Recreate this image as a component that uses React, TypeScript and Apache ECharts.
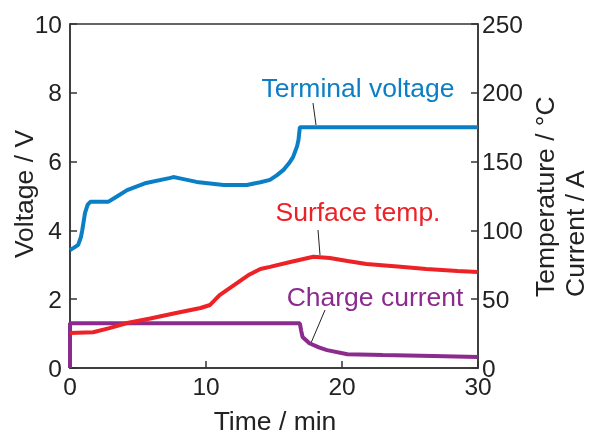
import React, { useEffect, useRef } from "react";
import * as echarts from "echarts";

const voltage: [number, number][] = [
  [0, 3.43], [0.3, 3.5], [0.6, 3.58], [0.8, 3.8], [0.9, 4.0], [1.1, 4.5], [1.3, 4.75], [1.5, 4.83],
  [2.8, 4.83], [3.3, 4.95], [4.2, 5.17], [5.6, 5.38], [7.3, 5.52], [7.6, 5.55], [8.0, 5.52],
  [9.3, 5.41], [11.3, 5.32], [13, 5.32], [14, 5.4], [14.7, 5.47], [15.2, 5.6], [15.7, 5.76],
  [16.1, 5.95], [16.4, 6.13], [16.7, 6.45], [16.8, 6.63], [16.9, 7.0], [30, 7.0],
];

const temperature: [number, number][] = [
  [0, 25.4], [1.7, 26], [2.9, 29], [4.2, 32.7], [5.9, 36], [7.8, 40], [9.6, 43.6], [10.3, 45.8],
  [11, 53], [12.3, 61.8], [13.2, 68], [14, 72], [14.7, 73.5], [16.2, 77], [17.9, 80.8],
  [19.1, 80], [20.4, 77.8], [21.8, 75.6], [24.3, 73.5], [26.2, 71.9], [28.5, 70.5], [30, 69.8],
];

const current: [number, number][] = [
  [0, 0], [0, 32.5], [16.9, 32.5], [17.0, 27], [17.1, 22.5], [17.6, 18], [18.3, 15], [18.9, 13],
  [20.4, 10], [23, 9.4], [26.7, 8.7], [30, 8],
];

const FONT = "'Liberation Sans', Arial, sans-serif";
const BLUE = "#0b7fc5";
const RED = "#ec2227";
const PURPLE = "#8c2b8e";
const AXIS = "#333";
const TF = `26.5px ${FONT}`;

export default function App() {
  const ref = useRef<HTMLDivElement>(null);
  useEffect(() => {
    if (!ref.current) return;
    const chart = echarts.init(ref.current, undefined, { renderer: "svg" });
    const axisLabel = { color: "#222", fontSize: 24.5, fontFamily: FONT };
    chart.setOption({
      animation: false,
      grid: { left: 70, right: 112, top: 24, bottom: 68, show: true, borderColor: AXIS, borderWidth: 1.5, backgroundColor: "transparent" },
      xAxis: {
        type: "value", min: 0, max: 30, interval: 10,
        axisLine: { show: true, lineStyle: { color: AXIS, width: 1.5 } },
        axisTick: { show: true, inside: true, length: 7, lineStyle: { color: AXIS, width: 1.5 } },
        axisLabel: { ...axisLabel, margin: 6 },
        splitLine: { show: false },
      },
      yAxis: [
        {
          type: "value", min: 0, max: 10, interval: 2,
          axisLine: { show: true, lineStyle: { color: AXIS, width: 1.5 } },
          axisTick: { show: true, inside: true, length: 7, lineStyle: { color: AXIS, width: 1.5 } },
          axisLabel: { ...axisLabel, margin: 8 },
          splitLine: { show: false },
        },
        {
          type: "value", min: 0, max: 250, interval: 50, position: "right",
          axisLine: { show: true, lineStyle: { color: AXIS, width: 1.5 } },
          axisTick: { show: true, inside: true, length: 7, lineStyle: { color: AXIS, width: 1.5 } },
          axisLabel: { ...axisLabel, margin: 4 },
          splitLine: { show: false },
        },
      ],
      series: [
        { name: "Charge current", type: "line", yAxisIndex: 1, data: current, showSymbol: false, z: 2, lineStyle: { color: PURPLE, width: 4 } },
        { name: "Surface temp.", type: "line", yAxisIndex: 1, data: temperature, showSymbol: false, z: 3, lineStyle: { color: RED, width: 4 } },
        { name: "Terminal voltage", type: "line", yAxisIndex: 0, data: voltage, showSymbol: false, z: 4, lineStyle: { color: BLUE, width: 4 } },
      ],
      graphic: [
        { type: "text", x: 24, y: 194, rotation: Math.PI / 2, style: { text: "Voltage / V", font: TF, fill: "#222", textAlign: "center", textVerticalAlign: "middle" } },
        { type: "text", x: 545, y: 297, rotation: Math.PI / 2, style: { text: "Temperature / °C", font: TF, fill: "#222", textAlign: "left", textVerticalAlign: "middle" } },
        { type: "text", x: 575, y: 297, rotation: Math.PI / 2, style: { text: "Current / A", font: TF, fill: "#222", textAlign: "left", textVerticalAlign: "middle" } },
        { type: "text", x: 275, y: 421, style: { text: "Time / min", font: TF, fill: "#222", textAlign: "center", textVerticalAlign: "middle" } },
        { type: "text", x: 358, y: 88, style: { text: "Terminal voltage", font: TF, fill: BLUE, textAlign: "center", textVerticalAlign: "middle" } },
        { type: "text", x: 358, y: 212, style: { text: "Surface temp.", font: TF, fill: RED, textAlign: "center", textVerticalAlign: "middle" } },
        { type: "text", x: 375, y: 297, style: { text: "Charge current", font: TF, fill: PURPLE, textAlign: "center", textVerticalAlign: "middle" } },
        { type: "line", shape: { x1: 313, y1: 103, x2: 316, y2: 125 }, style: { stroke: "#222", lineWidth: 1 } },
        { type: "line", shape: { x1: 318, y1: 230, x2: 320, y2: 255 }, style: { stroke: "#222", lineWidth: 1 } },
        { type: "line", shape: { x1: 325, y1: 310, x2: 311, y2: 343 }, style: { stroke: "#222", lineWidth: 1 } },
      ],
    });
    return () => chart.dispose();
  }, []);
  return <div ref={ref} style={{ position: "fixed", left: 0, top: 0, width: 590, height: 436 }} />;
}
